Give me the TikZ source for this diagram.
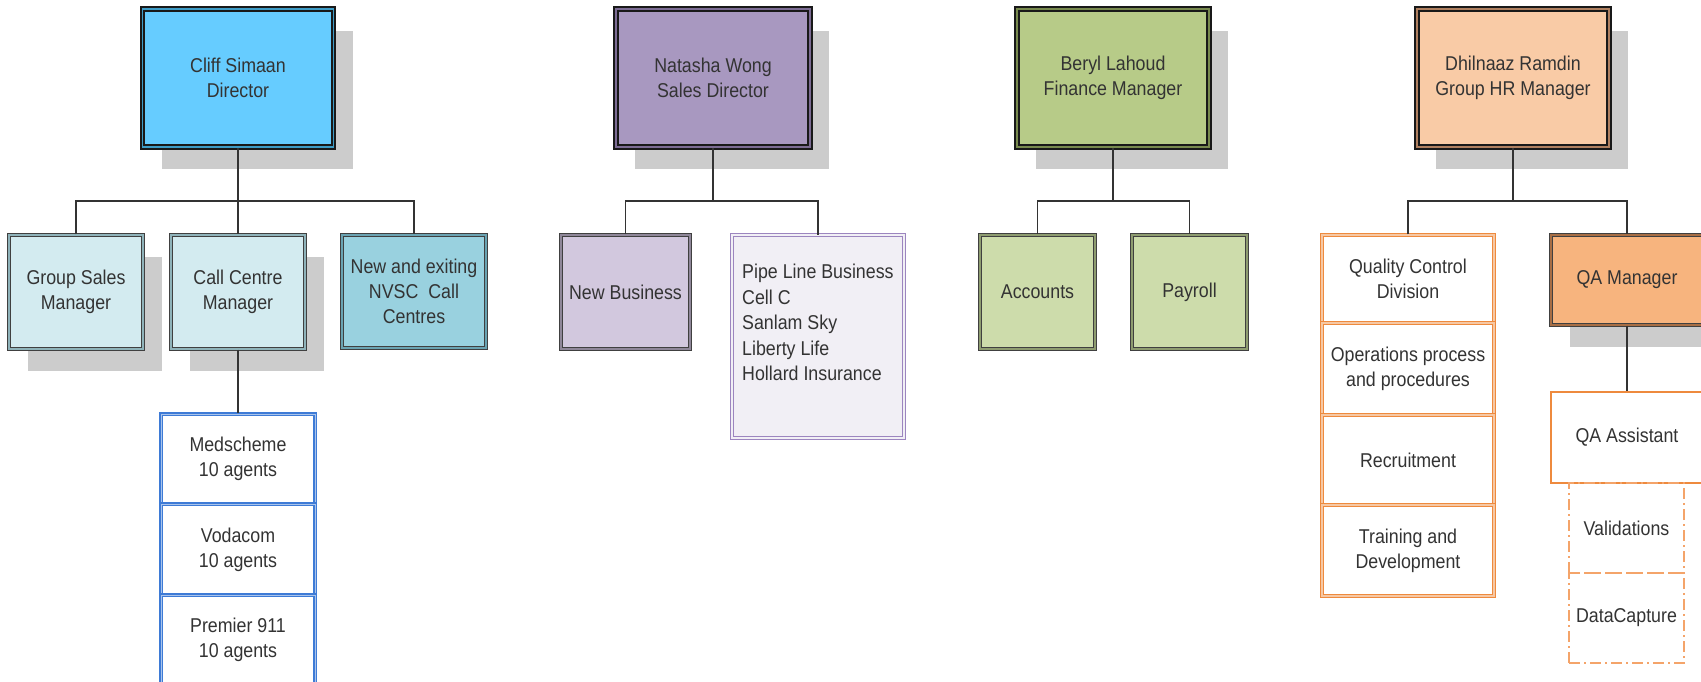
\documentclass[tikz,border=0pt]{standalone}
\usepackage{fontspec}
\setmainfont{Liberation Sans}[FakeStretch=0.89]
\usetikzlibrary{shadows}
\definecolor{txt}{HTML}{333333}
\definecolor{shd}{HTML}{CCCCCC}
\definecolor{cliffc}{HTML}{66CCFF}
\definecolor{cliffg}{HTML}{3E9CC6}
\definecolor{ltblue}{HTML}{D3EBF0}
\definecolor{ltblueg}{HTML}{8FB3BA}
\definecolor{nvsc}{HTML}{99D1DF}
\definecolor{nvscg}{HTML}{6AA3B2}
\definecolor{natc}{HTML}{A898C0}
\definecolor{natg}{HTML}{7C6C94}
\definecolor{nbc}{HTML}{D2C8DE}
\definecolor{nbg}{HTML}{8F8799}
\definecolor{pipef}{HTML}{F1EFF5}
\definecolor{pipeb}{HTML}{9C85BF}
\definecolor{berc}{HTML}{B7CB88}
\definecolor{berg}{HTML}{788A4E}
\definecolor{accc}{HTML}{CDDCAB}
\definecolor{accg}{HTML}{8E9C70}
\definecolor{dhic}{HTML}{F9CBA6}
\definecolor{dhig}{HTML}{B08060}
\definecolor{qamc}{HTML}{F7B47E}
\definecolor{qamg}{HTML}{A86E44}
\definecolor{orng}{HTML}{EE8A3E}
\definecolor{orngl}{HTML}{F6C8A4}
\definecolor{dorng}{HTML}{F4A46A}
\definecolor{bluec}{HTML}{3E7BD6}
\definecolor{bluel}{HTML}{A9C4EC}
\definecolor{conn}{HTML}{333333}
\begin{document}
\begin{tikzpicture}[x=1pt,y=-1pt,
  every node/.style={inner sep=0pt, text=txt, font=\fontsize{20}{25}\selectfont, align=center},
  shad/.style={drop shadow={shadow xshift=19pt, shadow yshift=-22pt, fill=shd, opacity=1}},
  topbox/.style 2 args={draw=black!90, line width=1.8pt, double=#2, double distance=1.8pt, fill=#1},
  midbox/.style 2 args={draw=black!75, line width=1.3pt, double=#2, double distance=1.5pt, fill=#1},
  obox/.style={draw=orng, line width=1.2pt, double=orngl, double distance=1.2pt, fill=white},
  bbox/.style={draw=bluec, line width=1.6pt, double=bluel, double distance=1pt, fill=white},
  pbox/.style={draw=pipeb, line width=1pt, double=pipef, double distance=1.3pt, fill=pipef},
  dashbox/.style={draw=dorng, line width=1.3pt, dash pattern=on 11pt off 4pt on 2pt off 4pt},
  link/.style={draw=conn, line width=1.6pt}]
\useasboundingbox (0,0) rectangle (1701,682);
% top level
\node[topbox={cliffc}{cliffg}, shad, minimum width=191pt, minimum height=138pt] (cliff) at (238,78) {Cliff Simaan\\Director};
\node[topbox={natc}{natg}, shad, minimum width=194pt, minimum height=138pt] (nat) at (713,78) {Natasha Wong\\Sales Director};
\node[topbox={berc}{berg}, shad, minimum width=192pt, minimum height=138pt] (ber) at (1113,78) {Beryl Lahoud\\Finance Manager};
\node[topbox={dhic}{dhig}, shad, minimum width=192pt, minimum height=138pt] (dhi) at (1513,78) {Dhilnaaz Ramdin\\Group HR Manager};
% Cliff's reports
\node[midbox={ltblue}{ltblueg}, shad, minimum width=134pt, minimum height=114pt] (gsm) at (76,292) {Group Sales\\Manager};
\node[midbox={ltblue}{ltblueg}, shad, minimum width=134pt, minimum height=114pt] (ccm) at (238,292) {Call Centre\\Manager};
\node[midbox={nvsc}{nvscg}, minimum width=144pt, minimum height=113pt] (nvsc) at (414,291.5) {New and exiting\\NVSC\ \ Call\\Centres};
% call centre stack
\node[bbox, minimum width=154pt, minimum height=90pt] (med) at (238,459) {Medscheme\\10 agents};
\node[bbox, minimum width=154pt, minimum height=91pt] (voda) at (238,549.5) {Vodacom\\10 agents};
\node[bbox, minimum width=154pt, minimum height=90pt] (prem) at (238,640) {Premier 911\\10 agents};
% Natasha's reports
\node[midbox={nbc}{nbg}, minimum width=129pt, minimum height=114pt] (nb) at (625.5,292) {New Business};
\node[pbox, minimum width=172pt, minimum height=203pt] (pipe) at (818,336.5) {};
\node[anchor=north west, align=left, font=\fontsize{20}{25.5}\selectfont] (pipetxt) at (742,264) {Pipe Line Business\\Cell C\\Sanlam Sky\\Liberty Life\\Hollard Insurance};
% Beryl's reports
\node[midbox={accc}{accg}, minimum width=115pt, minimum height=114pt] (acc) at (1037.5,292) {Accounts};
\node[midbox={accc}{accg}, minimum width=115pt, minimum height=114pt] (pay) at (1189.5,292) {Payroll};
% Dhilnaaz's reports
\node[obox, minimum width=172pt, minimum height=88pt] (qc) at (1408,279) {Quality Control\\Division};
\node[obox, minimum width=172pt, minimum height=92pt] (ops) at (1408,369) {Operations process\\and procedures};
\node[obox, minimum width=172pt, minimum height=90pt] (rec) at (1408,460) {Recruitment};
\node[obox, minimum width=172pt, minimum height=91pt] (trn) at (1408,550.5) {Training and\\Development};
\node[midbox={qamc}{qamg}, shad, minimum width=152pt, minimum height=90pt] (qam) at (1627,280) {QA Manager};
\node[draw=orng, line width=1.3pt, fill=white, minimum width=152pt, minimum height=91pt] (qaa) at (1627,437.5) {QA Assistant};
\node[dashbox, minimum width=115pt, minimum height=90pt] (val) at (1626.5,528) {Validations};
\node[dashbox, minimum width=115pt, minimum height=90pt] (dc) at (1626.5,618) {DataCapture};
% connectors
\coordinate (b1) at (238,201);
\coordinate (b2) at (713,201);
\coordinate (b3) at (1113,201);
\coordinate (b4) at (1513,201);
\draw[link] (cliff.south) -- (b1);
\draw[link] (gsm.north) |- (b1) -| (nvsc.north);
\draw[link] (b1) -- (ccm.north);
\draw[link] (ccm.south) -- (med.north);
\draw[link] (nat.south) -- (b2);
\draw[link] (nb.north) |- (b2) -| (pipe.north);
\draw[link] (ber.south) -- (b3);
\draw[link] (acc.north) |- (b3) -| (pay.north);
\draw[link] (dhi.south) -- (b4);
\draw[link] (qc.north) |- (b4) -| (qam.north);
\draw[link] (qam.south) -- (qaa.north);
\end{tikzpicture}
\end{document}
